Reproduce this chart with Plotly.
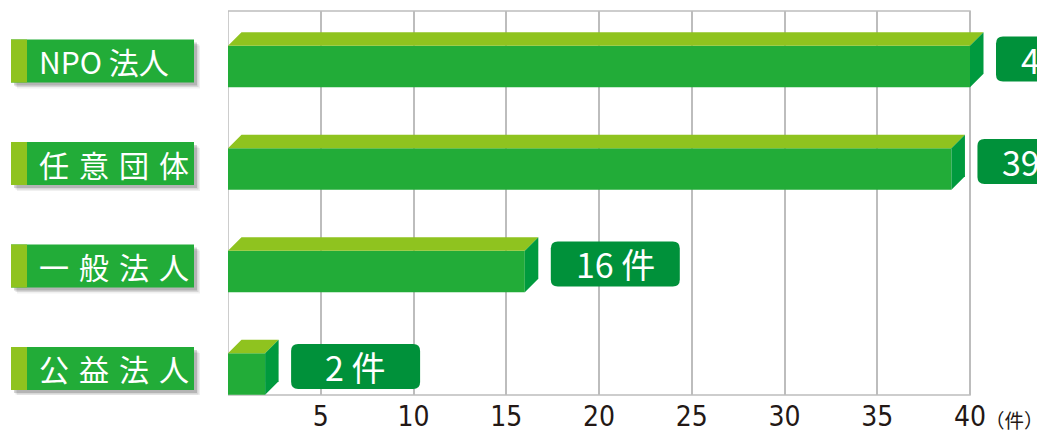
import plotly.graph_objects as go

# ---------------- data ----------------
categories = ["NPO 法人", "任意団体", "一般法人", "公益法人"]
counts = [40, 39, 16, 2]
tick_values = [5, 10, 15, 20, 25, 30, 35, 40]
unit_label = "（件）"
value_suffix = "件"

# ---------------- style ----------------
# the page body adds an 8px offset, so the figure is 8px smaller than the window
W, H = 1037, 426
ML, MR, MT, MB = 220, 0, 3, 39
PLOT_W = W - ML - MR
PLOT_H = H - MT - MB
AXIS_MAX = 40
AXIS_PX = 742                      # pixel length of 0..AXIS_MAX
X_MAX = AXIS_MAX * PLOT_W / AXIS_PX
Y_MIN, Y_MAX = -0.205, 3.5415
BAR_W = 0.405
DEPTH_PX = 13.5

FRONT = "#22AC38"
TOP = "#8FC31F"
SIDE = "#009A3E"
LABEL_BG = "#00913A"
GRID = "#BDBDBD"
TEXT = "#231815"
JP_FONT = "Noto Sans CJK JP, Noto Sans, sans-serif"
NUM_FONT = "Liberation Sans Narrow, DejaVu Sans Condensed, Noto Sans CJK JP, sans-serif"

n = len(categories)
ypos = [n - 1 - i for i in range(n)]  # first category on top

dx = DEPTH_PX * X_MAX / PLOT_W
dy = DEPTH_PX * (Y_MAX - Y_MIN) / PLOT_H

fig = go.Figure()
fig.add_trace(go.Bar(
    x=counts, y=ypos, orientation="h", width=BAR_W,
    marker=dict(color=FRONT, line=dict(width=0)),
    hoverinfo="skip", showlegend=False,
))

shapes = []
annotations = []

# plot frame
shapes.append(dict(type="rect", xref="x", yref="paper", x0=0, x1=AXIS_MAX, y0=0, y1=1,
                   line=dict(color=GRID, width=1.5), fillcolor="rgba(0,0,0,0)", layer="below"))


def rrect(x0, x1, y0, y1, r):
    return (f"M {x0+r},{y0} L {x1-r},{y0} Q {x1},{y0} {x1},{y0+r} "
            f"L {x1},{y1-r} Q {x1},{y1} {x1-r},{y1} L {x0+r},{y1} "
            f"Q {x0},{y1} {x0},{y1-r} L {x0},{y0+r} Q {x0},{y0} {x0+r},{y0} Z")


for cat, v, y in zip(categories, counts, ypos):
    yt = y + BAR_W / 2
    yb = y - BAR_W / 2
    # top face
    shapes.append(dict(type="path", xref="x", yref="y", layer="above",
                       path=f"M 0,{yt} L {dx},{yt+dy} L {v+dx},{yt+dy} L {v},{yt} Z",
                       fillcolor=TOP, line=dict(width=0)))
    # side face
    shapes.append(dict(type="path", xref="x", yref="y", layer="above",
                       path=f"M {v},{yb} L {v+dx},{yb+dy} L {v+dx},{yt+dy} L {v},{yt} Z",
                       fillcolor=SIDE, line=dict(width=0)))
    # value label box
    shapes.append(dict(type="path", xref="x", yref="y", layer="above",
                       xsizemode="pixel", ysizemode="pixel", xanchor=v, yanchor=y,
                       path=rrect(26, 155, -15, 30, 7),
                       fillcolor=LABEL_BG, line=dict(width=0)))
    annotations.append(dict(xref="x", yref="y", x=v, y=y, xshift=90.5, yshift=7.5,
                            xanchor="center", yanchor="middle", showarrow=False,
                            text=f"{v} {value_suffix}",
                            font=dict(family=JP_FONT, size=34, color="white")))
    # category label box: shadow, box, stripe
    for off, op in [(6, 0.06), (4.5, 0.10), (3, 0.16)]:
        shapes.append(dict(type="rect", xref="paper", yref="y", layer="above",
                           xsizemode="pixel", ysizemode="pixel", xanchor=0, yanchor=y,
                           x0=-217 + off, x1=-34 + off, y0=-16 - off, y1=27 - off,
                           fillcolor=f"rgba(0,0,0,{op})", line=dict(width=0)))
    shapes.append(dict(type="rect", xref="paper", yref="y", layer="above",
                       xsizemode="pixel", ysizemode="pixel", xanchor=0, yanchor=y,
                       x0=-217, x1=-34, y0=-16, y1=27,
                       fillcolor=FRONT, line=dict(width=0)))
    shapes.append(dict(type="rect", xref="paper", yref="y", layer="above",
                       xsizemode="pixel", ysizemode="pixel", xanchor=0, yanchor=y,
                       x0=-217, x1=-201, y0=-16, y1=27,
                       fillcolor=TOP, line=dict(width=0)))
    shown = cat if " " in cat else "\u2004".join(cat)
    annotations.append(dict(xref="paper", yref="y", x=0, y=y, xshift=-191, yshift=5.5,
                            xanchor="left", yanchor="middle", showarrow=False,
                            text=shown,
                            font=dict(family=JP_FONT, size=30, color="white")))

annotations.append(dict(xref="x", yref="paper", x=AXIS_MAX, y=0, xshift=13, yshift=-24,
                        xanchor="left", yanchor="middle", showarrow=False,
                        text=unit_label, font=dict(family=JP_FONT, size=19.5, color=TEXT)))

fig.update_layout(
    width=W, height=H,
    margin=dict(l=ML, r=MR, t=MT, b=MB, autoexpand=False),
    paper_bgcolor="white", plot_bgcolor="white",
    showlegend=False,
    shapes=shapes, annotations=annotations,
    xaxis=dict(range=[0, X_MAX], tickvals=tick_values, ticktext=[str(t) for t in tick_values],
               showgrid=True, gridcolor=GRID, gridwidth=1.5, zeroline=False, showline=False,
               ticks="", ticklabelstandoff=2,
               tickfont=dict(family=NUM_FONT, size=28, color=TEXT), fixedrange=True),
    yaxis=dict(range=[Y_MIN, Y_MAX], showticklabels=False, showgrid=False, zeroline=False,
               showline=False, fixedrange=True),
)

fig.write_html("out.html")
